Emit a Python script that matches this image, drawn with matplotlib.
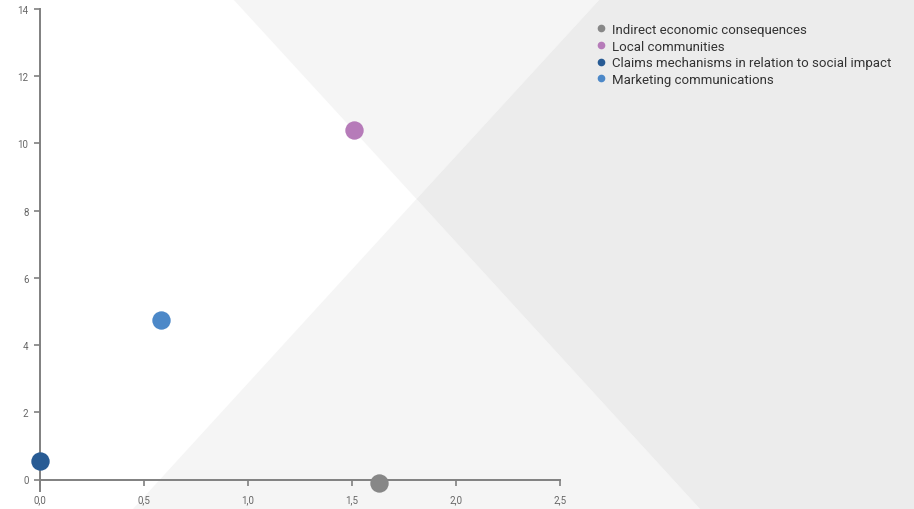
import matplotlib.pyplot as plt
from matplotlib.patches import Polygon
from matplotlib.lines import Line2D

plt.rcParams['font.family'] = ['Roboto', 'DejaVu Sans']

labels = ["Indirect economic consequences", "Local communities",
          "Claims mechanisms in relation to social impact", "Marketing communications"]
x_vals = [1.63, 1.51, 0.0, 0.584]
y_vals = [-0.1, 10.4, 0.55, 4.75]
colors = ["#878787", "#b67bb9", "#285b94", "#4c88c8"]

x_ticks = [0.0, 0.5, 1.0, 1.5, 2.0, 2.5]
y_ticks = [0, 2, 4, 6, 8, 10, 12, 14]

W, H = 914, 510
fig = plt.figure(figsize=(W / 100, H / 100), dpi=100)

# background "X" made of grey wedges (pixel coords)
bg = fig.add_axes([0, 0, 1, 1])
bg.set_xlim(0, W)
bg.set_ylim(H, 0)
bg.axis('off')
cx, cy = 416.5, 200
light = "#f5f5f5"
dark = "#ececec"
bg.add_patch(Polygon([(233, 0), (600, 0), (cx, cy)], color=light, lw=0))
bg.add_patch(Polygon([(133, H), (700, H), (cx, cy)], color=light, lw=0))
bg.add_patch(Polygon([(600, 0), (W, 0), (W, H), (700, H), (cx, cy)], color=dark, lw=0))

ax = fig.add_axes([39.5 / W, 29.5 / H, 520.5 / W, 470.5 / H])
ax.patch.set_alpha(0)
ax.set_xlim(0, 2.5)
ax.set_ylim(0, 14)

for x, y, c in zip(x_vals, y_vals, colors):
    ax.scatter(x, y, s=175, color=c, zorder=5, clip_on=False, linewidths=0)

for s in ['top', 'right']:
    ax.spines[s].set_visible(False)
for s in ['left', 'bottom']:
    ax.spines[s].set_color("#808080")
    ax.spines[s].set_linewidth(1.4)
ax.spines['left'].set_bounds(-0.33, 14)

ax.set_xticks(x_ticks)
ax.set_xticklabels([f"{v:.1f}".replace('.', ',') for v in x_ticks])
ax.set_yticks(y_ticks)
ax.tick_params(axis='both', colors="#808080", labelcolor="#666666", labelsize=7,
               length=4.5, width=1.2)
ax.tick_params(axis='x', pad=6)
ax.tick_params(axis='y', pad=3.5)

handles = [Line2D([], [], marker='o', ls='', color=c, markersize=4.5) for c in colors]
fig.legend(handles, labels, loc='upper left', bbox_to_anchor=(589 / W, 1 - 17.5 / H),
           frameon=False, fontsize=9.5, handletextpad=0.45, labelspacing=0.27,
           handlelength=0.8, borderpad=0, labelcolor="#333333")

fig.savefig("out.png", dpi=100)
